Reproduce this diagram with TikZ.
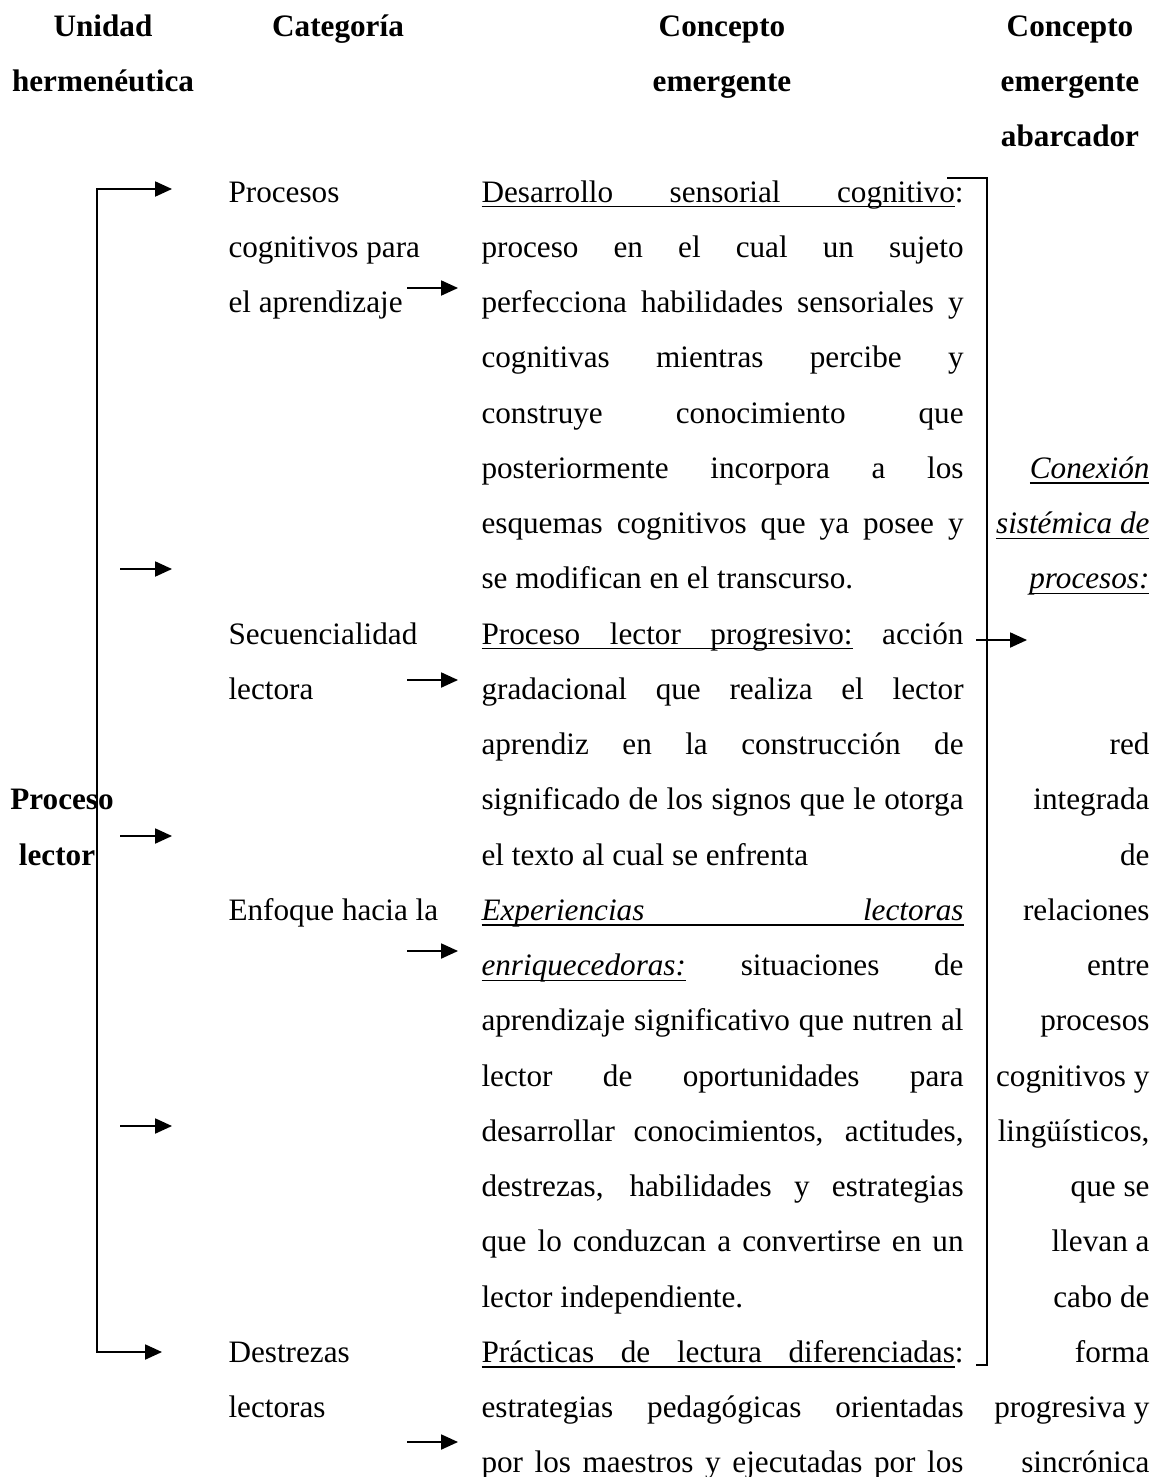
\documentclass[tikz,border=0pt]{standalone}
\usepackage{fontspec}
\setmainfont{Liberation Serif}
\usetikzlibrary{arrows.meta}
\newlength\cw
\setlength\cw{185.4pt}
\newcommand\ulw[1]{\setbox0=\hbox{#1}\rlap{\rule[-2.1pt]{\wd0}{0.55pt}}\box0}
\newcommand\ulsp{\leaders\hrule height -1.55pt depth 2.1pt\hskip 3pt plus 1fil}
\newcommand\jsp{\hskip 3pt plus 1fil}
\newcommand\jl[1]{\hbox to \cw{#1}}
\begin{document}
\begin{tikzpicture}[x=0.3846pt,y=-0.3846pt,
    font=\fontsize{12pt}{14pt}\selectfont,
    lbl/.style={anchor=base west,inner sep=0pt},
    lblr/.style={anchor=base east,inner sep=0pt},
    head/.style={anchor=base,inner sep=0pt,font=\fontsize{12pt}{14pt}\selectfont\bfseries},
    arr/.style={line width=0.6pt,-{Triangle[length=6.5pt,width=5.8pt]}},
    arrr/.style={line width=0.6pt,{Triangle[length=6.5pt,width=5.8pt]}-{Triangle[length=6.5pt,width=5.8pt]}},
    bar/.style={line width=0.6pt}]
    \useasboundingbox (0,0) rectangle (1156,1477);
    % headers
    \node[head] (hUni) at (103,36.25) {Unidad};
    \node[head] (hHer) at (103,91.5) {hermenéutica};
    \node[head] (hCat) at (338,36.25) {Categoría};
    \node[head] (hCon) at (722,36.25) {Concepto};
    \node[head] (hEme) at (722,91.5) {emergente};
    \node[head] (hConA) at (1070,36.25) {Concepto};
    \node[head] (hEmeA) at (1070,91.5) {emergente};
    \node[head] (hAba) at (1070,146.75) {abarcador};
    % unidad
    \node[head] (uni1) at (62,809.75) {Proceso};
    \node[head] (uni2) at (57,865) {lector};
    % categorias
    \node[lbl] (cat1) at (228,202) {Procesos};
    \node[lbl] (cat2) at (228,257.25) {cognitivos para};
    \node[lbl] (cat3) at (228,312.5) {el aprendizaje};
    \node[lbl] (cat4) at (228,644) {Secuencialidad};
    \node[lbl] (cat5) at (228,699.25) {lectora};
    \node[lbl] (cat6) at (228,920.25) {Enfoque hacia la};
    \node[lbl] (cat7) at (228,1362.25) {Destrezas};
    \node[lbl] (cat8) at (228,1417.5) {lectoras};
    % conceptos emergentes
    \node[lbl] (con1) at (481,202) {\jl{\ulw{Desarrollo}\ulsp\ulw{sensorial}\ulsp\ulw{cognitivo}:}};
    \node[lbl] (con2) at (481,257.25) {\jl{proceso en el cual un sujeto}};
    \node[lbl] (con3) at (481,312.5) {\jl{perfecciona habilidades sensoriales y}};
    \node[lbl] (con4) at (481,367.75) {\jl{cognitivas mientras percibe y}};
    \node[lbl] (con5) at (481,423) {\jl{construye conocimiento que}};
    \node[lbl] (con6) at (481,478.25) {\jl{posteriormente incorpora a los}};
    \node[lbl] (con7) at (481,533.5) {\jl{esquemas cognitivos que ya posee y}};
    \node[lbl] (con8) at (481,588.75) {se modifican en el transcurso.};
    \node[lbl] (con9) at (481,644) {\jl{\ulw{Proceso}\ulsp\ulw{lector}\ulsp\ulw{progresivo:}\jsp acción}};
    \node[lbl] (con10) at (481,699.25) {\jl{gradacional que realiza el lector}};
    \node[lbl] (con11) at (481,754.5) {\jl{aprendiz en la construcción de}};
    \node[lbl] (con12) at (481,809.75) {\jl{significado de los signos que le otorga}};
    \node[lbl] (con13) at (481,865) {el texto al cual se enfrenta};
    \node[lbl] (con14) at (481,920.25) {\jl{\ulw{\textit{Experiencias}}\ulsp\ulw{\textit{lectoras}}}};
    \node[lbl] (con15) at (481,975.5) {\jl{\ulw{\textit{enriquecedoras:}}\jsp situaciones\jsp de}};
    \node[lbl] (con16) at (481,1030.75) {\jl{aprendizaje significativo que nutren al}};
    \node[lbl] (con17) at (481,1086) {\jl{lector de oportunidades para}};
    \node[lbl] (con18) at (481,1141.25) {\jl{desarrollar conocimientos, actitudes,}};
    \node[lbl] (con19) at (481,1196.5) {\jl{destrezas, habilidades y estrategias}};
    \node[lbl] (con20) at (481,1251.75) {\jl{que lo conduzcan a convertirse en un}};
    \node[lbl] (con21) at (481,1307) {lector independiente.};
    \node[lbl] (con22) at (481,1362.25) {\jl{\ulw{Prácticas}\ulsp\ulw{de}\ulsp\ulw{lectura}\ulsp\ulw{diferenciadas}:}};
    \node[lbl] (con23) at (481,1417.5) {\jl{estrategias pedagógicas orientadas}};
    \node[lbl] (con24) at (481,1472.75) {\jl{por los maestros y ejecutadas por los}};
    % concepto abarcador
    \node[lblr] (aba1) at (1150,478.25) {\ulw{\textit{Conexión}}};
    \node[lblr] (aba2) at (1150,533.5) {\ulw{\textit{sistémica de}}};
    \node[lblr] (aba3) at (1150,588.75) {\ulw{\textit{procesos:}}};
    \node[lblr] (aba4) at (1150,754.5) {red};
    \node[lblr] (aba5) at (1150,809.75) {integrada};
    \node[lblr] (aba6) at (1150,865) {de};
    \node[lblr] (aba7) at (1150,920.25) {relaciones};
    \node[lblr] (aba8) at (1150,975.5) {entre};
    \node[lblr] (aba9) at (1150,1030.75) {procesos};
    \node[lblr] (aba10) at (1150,1086) {cognitivos y};
    \node[lblr] (aba11) at (1150,1141.25) {lingüísticos,};
    \node[lblr] (aba12) at (1150,1196.5) {que se};
    \node[lblr] (aba13) at (1150,1251.75) {llevan a};
    \node[lblr] (aba14) at (1150,1307) {cabo de};
    \node[lblr] (aba15) at (1150,1362.25) {forma};
    \node[lblr] (aba16) at (1150,1417.5) {progresiva y};
    \node[lblr] (aba17) at (1150,1472.75) {sincrónica};
    % left bracket
    \coordinate (lTop) at (172,189);
    \coordinate (lCornerT) at (97,189);
    \coordinate (lCornerB) at (97,1352);
    \coordinate (lBot) at (162,1352);
    \draw[arrr] (lTop) -- (lCornerT) -- (lCornerB) -- (lBot);
    \coordinate (la1) at (120,569);
    \coordinate (lb1) at (172,569);
    \coordinate (la2) at (120,836);
    \coordinate (lb2) at (172,836);
    \coordinate (la3) at (120,1126);
    \coordinate (lb3) at (172,1126);
    \draw[arr] (la1) -- (lb1);
    \draw[arr] (la2) -- (lb2);
    \draw[arr] (la3) -- (lb3);
    % category to concept arrows
    \coordinate (ma1) at (407,288);
    \coordinate (mb1) at (458,288);
    \coordinate (ma2) at (407,680);
    \coordinate (mb2) at (458,680);
    \coordinate (ma3) at (407,951);
    \coordinate (mb3) at (458,951);
    \coordinate (ma4) at (407,1442);
    \coordinate (mb4) at (458,1442);
    \draw[arr] (ma1) -- (mb1);
    \draw[arr] (ma2) -- (mb2);
    \draw[arr] (ma3) -- (mb3);
    \draw[arr] (ma4) -- (mb4);
    % right bracket
    \coordinate (rTop) at (947,178);
    \coordinate (rCornerT) at (987,178);
    \coordinate (rCornerB) at (987,1365);
    \coordinate (rBot) at (976,1365);
    \draw[bar] (rTop) -- (rCornerT) -- (rCornerB) -- (rBot);
    \coordinate (ra) at (976,640);
    \coordinate (rb) at (1027,640);
    \draw[arr] (ra) -- (rb);
\end{tikzpicture}
\end{document}
